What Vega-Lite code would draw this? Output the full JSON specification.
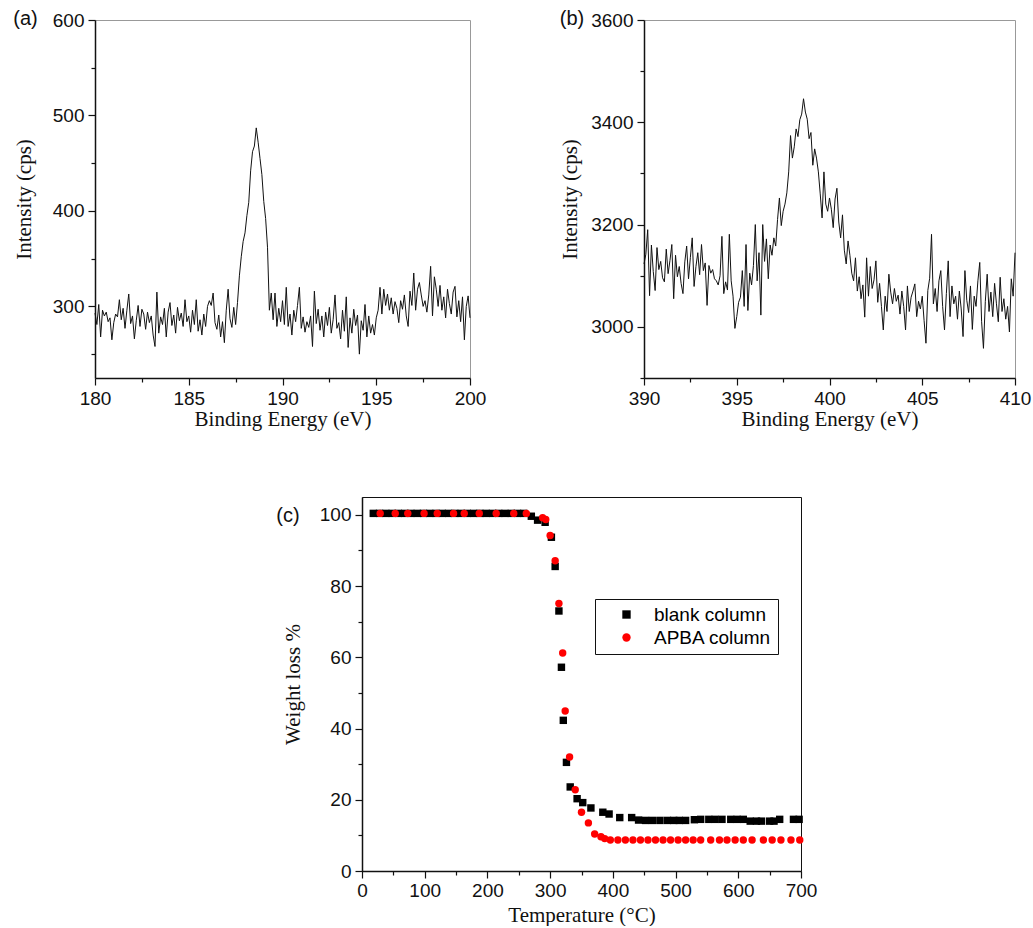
{
"$schema": "https://vega.github.io/schema/vega-lite/v6.json",
"padding": {"left": 12, "top": 8, "right": 0, "bottom": 0},
"config": {
  "font": "Liberation Sans",
  "axis": {"labelFont": "Liberation Sans", "labelFontSize": 19, "labelColor": "#111", "titleFont": "Liberation Serif", "titleFontSize": 21, "titleFontWeight": "normal", "titleColor": "#111", "domainColor": "#111", "tickColor": "#111", "grid": false, "domainWidth": 1.5, "tickWidth": 1.2, "labelFlush": false, "labelOverlap": false},
  "view": {"stroke": "#999"},
  "title": {"font": "Liberation Sans", "fontSize": 20, "fontWeight": "normal", "anchor": "start", "frame": "bounds", "color": "#111"}
},
"datasets": {
"xpsA": [
{"be":180.0,"cps":293},{"be":180.1,"cps":281},{"be":180.2,"cps":302},{"be":180.3,"cps":268},{"be":180.4,"cps":296},{"be":180.5,"cps":290},{"be":180.6,"cps":294},{"be":180.7,"cps":284},{"be":180.8,"cps":288},{"be":180.9,"cps":265},
{"be":181.0,"cps":283},{"be":181.1,"cps":292},{"be":181.2,"cps":289},{"be":181.3,"cps":307},{"be":181.4,"cps":286},{"be":181.5,"cps":298},{"be":181.6,"cps":277},{"be":181.7,"cps":296},{"be":181.8,"cps":313},{"be":181.9,"cps":282},
{"be":182.0,"cps":290},{"be":182.1,"cps":266},{"be":182.2,"cps":285},{"be":182.3,"cps":301},{"be":182.4,"cps":279},{"be":182.5,"cps":297},{"be":182.6,"cps":292},{"be":182.7,"cps":276},{"be":182.8,"cps":294},{"be":182.9,"cps":283},
{"be":183.0,"cps":290},{"be":183.1,"cps":270},{"be":183.2,"cps":258},{"be":183.3,"cps":315},{"be":183.4,"cps":272},{"be":183.5,"cps":289},{"be":183.6,"cps":281},{"be":183.7,"cps":298},{"be":183.8,"cps":268},{"be":183.9,"cps":294},
{"be":184.0,"cps":304},{"be":184.1,"cps":280},{"be":184.2,"cps":291},{"be":184.3,"cps":272},{"be":184.4,"cps":299},{"be":184.5,"cps":285},{"be":184.6,"cps":293},{"be":184.7,"cps":279},{"be":184.8,"cps":307},{"be":184.9,"cps":284},
{"be":185.0,"cps":290},{"be":185.1,"cps":273},{"be":185.2,"cps":296},{"be":185.3,"cps":281},{"be":185.4,"cps":307},{"be":185.5,"cps":274},{"be":185.6,"cps":286},{"be":185.7,"cps":270},{"be":185.8,"cps":292},{"be":185.9,"cps":279},
{"be":186.0,"cps":300},{"be":186.1,"cps":306},{"be":186.2,"cps":301},{"be":186.3,"cps":314},{"be":186.4,"cps":283},{"be":186.5,"cps":276},{"be":186.6,"cps":291},{"be":186.7,"cps":268},{"be":186.8,"cps":284},{"be":186.9,"cps":262},
{"be":187.0,"cps":296},{"be":187.1,"cps":318},{"be":187.2,"cps":287},{"be":187.3,"cps":278},{"be":187.4,"cps":299},{"be":187.5,"cps":281},{"be":187.6,"cps":304},{"be":187.7,"cps":332},{"be":187.8,"cps":352},{"be":187.9,"cps":368},
{"be":188.0,"cps":377},{"be":188.1,"cps":395},{"be":188.2,"cps":409},{"be":188.3,"cps":442},{"be":188.4,"cps":462},{"be":188.5,"cps":468},{"be":188.6,"cps":487},{"be":188.7,"cps":472},{"be":188.8,"cps":455},{"be":188.9,"cps":438},
{"be":189.0,"cps":410},{"be":189.1,"cps":392},{"be":189.2,"cps":362},{"be":189.3,"cps":296},{"be":189.4,"cps":314},{"be":189.5,"cps":286},{"be":189.6,"cps":314},{"be":189.7,"cps":279},{"be":189.8,"cps":298},{"be":189.9,"cps":284},
{"be":190.0,"cps":306},{"be":190.1,"cps":281},{"be":190.2,"cps":320},{"be":190.3,"cps":279},{"be":190.4,"cps":292},{"be":190.5,"cps":270},{"be":190.6,"cps":296},{"be":190.7,"cps":284},{"be":190.8,"cps":301},{"be":190.9,"cps":320},
{"be":191.0,"cps":277},{"be":191.1,"cps":289},{"be":191.2,"cps":273},{"be":191.3,"cps":284},{"be":191.4,"cps":278},{"be":191.5,"cps":290},{"be":191.6,"cps":258},{"be":191.7,"cps":316},{"be":191.8,"cps":282},{"be":191.9,"cps":297},
{"be":192.0,"cps":275},{"be":192.1,"cps":290},{"be":192.2,"cps":268},{"be":192.3,"cps":294},{"be":192.4,"cps":280},{"be":192.5,"cps":299},{"be":192.6,"cps":272},{"be":192.7,"cps":286},{"be":192.8,"cps":312},{"be":192.9,"cps":277},
{"be":193.0,"cps":283},{"be":193.1,"cps":266},{"be":193.2,"cps":296},{"be":193.3,"cps":274},{"be":193.4,"cps":310},{"be":193.5,"cps":257},{"be":193.6,"cps":288},{"be":193.7,"cps":272},{"be":193.8,"cps":297},{"be":193.9,"cps":280},
{"be":194.0,"cps":291},{"be":194.1,"cps":250},{"be":194.2,"cps":285},{"be":194.3,"cps":275},{"be":194.4,"cps":302},{"be":194.5,"cps":268},{"be":194.6,"cps":290},{"be":194.7,"cps":272},{"be":194.8,"cps":281},{"be":194.9,"cps":270},
{"be":195.0,"cps":288},{"be":195.1,"cps":296},{"be":195.2,"cps":320},{"be":195.3,"cps":292},{"be":195.4,"cps":318},{"be":195.5,"cps":301},{"be":195.6,"cps":313},{"be":195.7,"cps":296},{"be":195.8,"cps":309},{"be":195.9,"cps":292},
{"be":196.0,"cps":305},{"be":196.1,"cps":298},{"be":196.2,"cps":283},{"be":196.3,"cps":306},{"be":196.4,"cps":297},{"be":196.5,"cps":312},{"be":196.6,"cps":290},{"be":196.7,"cps":279},{"be":196.8,"cps":316},{"be":196.9,"cps":301},
{"be":197.0,"cps":335},{"be":197.1,"cps":296},{"be":197.2,"cps":318},{"be":197.3,"cps":325},{"be":197.4,"cps":312},{"be":197.5,"cps":300},{"be":197.6,"cps":306},{"be":197.7,"cps":294},{"be":197.8,"cps":312},{"be":197.9,"cps":342},
{"be":198.0,"cps":290},{"be":198.1,"cps":331},{"be":198.2,"cps":318},{"be":198.3,"cps":300},{"be":198.4,"cps":322},{"be":198.5,"cps":296},{"be":198.6,"cps":310},{"be":198.7,"cps":288},{"be":198.8,"cps":318},{"be":198.9,"cps":303},
{"be":199.0,"cps":292},{"be":199.1,"cps":315},{"be":199.2,"cps":321},{"be":199.3,"cps":289},{"be":199.4,"cps":306},{"be":199.5,"cps":284},{"be":199.6,"cps":310},{"be":199.7,"cps":265},{"be":199.8,"cps":300},{"be":199.9,"cps":311},
{"be":200.0,"cps":288}
],
"xpsB": [
{"be":390.0,"cps":3123},{"be":390.1,"cps":3142},{"be":390.2,"cps":3190},{"be":390.3,"cps":3061},{"be":390.4,"cps":3160},{"be":390.5,"cps":3108},{"be":390.6,"cps":3071},{"be":390.7,"cps":3155},{"be":390.8,"cps":3112},{"be":390.9,"cps":3128},
{"be":391.0,"cps":3096},{"be":391.1,"cps":3088},{"be":391.2,"cps":3152},{"be":391.3,"cps":3104},{"be":391.4,"cps":3130},{"be":391.5,"cps":3161},{"be":391.6,"cps":3055},{"be":391.7,"cps":3140},{"be":391.8,"cps":3098},{"be":391.9,"cps":3118},
{"be":392.0,"cps":3085},{"be":392.1,"cps":3065},{"be":392.2,"cps":3127},{"be":392.3,"cps":3158},{"be":392.4,"cps":3094},{"be":392.5,"cps":3136},{"be":392.6,"cps":3174},{"be":392.7,"cps":3079},{"be":392.8,"cps":3118},{"be":392.9,"cps":3145},
{"be":393.0,"cps":3102},{"be":393.1,"cps":3161},{"be":393.2,"cps":3110},{"be":393.3,"cps":3125},{"be":393.4,"cps":3042},{"be":393.5,"cps":3120},{"be":393.6,"cps":3105},{"be":393.7,"cps":3112},{"be":393.8,"cps":3094},{"be":393.9,"cps":3090},
{"be":394.0,"cps":3082},{"be":394.1,"cps":3100},{"be":394.2,"cps":3177},{"be":394.3,"cps":3065},{"be":394.4,"cps":3088},{"be":394.5,"cps":3072},{"be":394.6,"cps":3181},{"be":394.7,"cps":3090},{"be":394.8,"cps":3060},{"be":394.9,"cps":2997},
{"be":395.0,"cps":3020},{"be":395.1,"cps":3048},{"be":395.2,"cps":3058},{"be":395.3,"cps":3110},{"be":395.4,"cps":3040},{"be":395.5,"cps":3161},{"be":395.6,"cps":3032},{"be":395.7,"cps":3105},{"be":395.8,"cps":3082},{"be":395.9,"cps":3120},
{"be":396.0,"cps":3200},{"be":396.1,"cps":3090},{"be":396.2,"cps":3145},{"be":396.3,"cps":3023},{"be":396.4,"cps":3200},{"be":396.5,"cps":3128},{"be":396.6,"cps":3172},{"be":396.7,"cps":3094},{"be":396.8,"cps":3160},{"be":396.9,"cps":3140},
{"be":397.0,"cps":3174},{"be":397.1,"cps":3158},{"be":397.2,"cps":3210},{"be":397.3,"cps":3252},{"be":397.4,"cps":3198},{"be":397.5,"cps":3226},{"be":397.6,"cps":3240},{"be":397.7,"cps":3262},{"be":397.8,"cps":3303},{"be":397.9,"cps":3374},
{"be":398.0,"cps":3330},{"be":398.1,"cps":3352},{"be":398.2,"cps":3387},{"be":398.3,"cps":3372},{"be":398.4,"cps":3405},{"be":398.5,"cps":3416},{"be":398.6,"cps":3446},{"be":398.7,"cps":3420},{"be":398.8,"cps":3406},{"be":398.9,"cps":3368},
{"be":399.0,"cps":3380},{"be":399.1,"cps":3316},{"be":399.2,"cps":3348},{"be":399.3,"cps":3330},{"be":399.4,"cps":3303},{"be":399.5,"cps":3260},{"be":399.6,"cps":3213},{"be":399.7,"cps":3303},{"be":399.8,"cps":3240},{"be":399.9,"cps":3226},
{"be":400.0,"cps":3252},{"be":400.1,"cps":3230},{"be":400.2,"cps":3194},{"be":400.3,"cps":3250},{"be":400.4,"cps":3271},{"be":400.5,"cps":3205},{"be":400.6,"cps":3174},{"be":400.7,"cps":3219},{"be":400.8,"cps":3150},{"be":400.9,"cps":3123},
{"be":401.0,"cps":3168},{"be":401.1,"cps":3140},{"be":401.2,"cps":3105},{"be":401.3,"cps":3090},{"be":401.4,"cps":3135},{"be":401.5,"cps":3070},{"be":401.6,"cps":3098},{"be":401.7,"cps":3055},{"be":401.8,"cps":3082},{"be":401.9,"cps":3019},
{"be":402.0,"cps":3135},{"be":402.1,"cps":3060},{"be":402.2,"cps":3118},{"be":402.3,"cps":3075},{"be":402.4,"cps":3092},{"be":402.5,"cps":3129},{"be":402.6,"cps":3048},{"be":402.7,"cps":3085},{"be":402.8,"cps":3040},{"be":402.9,"cps":2994},
{"be":403.0,"cps":3060},{"be":403.1,"cps":3030},{"be":403.2,"cps":3103},{"be":403.3,"cps":3068},{"be":403.4,"cps":3045},{"be":403.5,"cps":3075},{"be":403.6,"cps":3050},{"be":403.7,"cps":3062},{"be":403.8,"cps":3025},{"be":403.9,"cps":3070},
{"be":404.0,"cps":3040},{"be":404.1,"cps":2994},{"be":404.2,"cps":3080},{"be":404.3,"cps":3030},{"be":404.4,"cps":3058},{"be":404.5,"cps":3070},{"be":404.6,"cps":3084},{"be":404.7,"cps":3020},{"be":404.8,"cps":3050},{"be":404.9,"cps":3035},
{"be":405.0,"cps":3060},{"be":405.1,"cps":3012},{"be":405.2,"cps":2968},{"be":405.3,"cps":3071},{"be":405.4,"cps":3095},{"be":405.5,"cps":3181},{"be":405.6,"cps":3045},{"be":405.7,"cps":3075},{"be":405.8,"cps":3030},{"be":405.9,"cps":3090},
{"be":406.0,"cps":3110},{"be":406.1,"cps":3040},{"be":406.2,"cps":2994},{"be":406.3,"cps":3065},{"be":406.4,"cps":3129},{"be":406.5,"cps":3020},{"be":406.6,"cps":3080},{"be":406.7,"cps":3045},{"be":406.8,"cps":3060},{"be":406.9,"cps":3015},
{"be":407.0,"cps":3070},{"be":407.1,"cps":3035},{"be":407.2,"cps":2981},{"be":407.3,"cps":3110},{"be":407.4,"cps":3052},{"be":407.5,"cps":3028},{"be":407.6,"cps":3080},{"be":407.7,"cps":2995},{"be":407.8,"cps":3060},{"be":407.9,"cps":3040},
{"be":408.0,"cps":3090},{"be":408.1,"cps":3126},{"be":408.2,"cps":3010},{"be":408.3,"cps":2958},{"be":408.4,"cps":3050},{"be":408.5,"cps":3103},{"be":408.6,"cps":3030},{"be":408.7,"cps":3068},{"be":408.8,"cps":3020},{"be":408.9,"cps":3085},
{"be":409.0,"cps":3045},{"be":409.1,"cps":3010},{"be":409.2,"cps":3097},{"be":409.3,"cps":3030},{"be":409.4,"cps":3055},{"be":409.5,"cps":3015},{"be":409.6,"cps":3040},{"be":409.7,"cps":2990},{"be":409.8,"cps":3094},{"be":409.9,"cps":3060},
{"be":410.0,"cps":3145}
],
"tga": [
{"series":"blank column","temp":18,"loss":100.4},{"series":"blank column","temp":28,"loss":100.4},{"series":"blank column","temp":38,"loss":100.4},{"series":"blank column","temp":48,"loss":100.4},{"series":"blank column","temp":58,"loss":100.4},
{"series":"blank column","temp":68,"loss":100.4},{"series":"blank column","temp":78,"loss":100.4},{"series":"blank column","temp":88,"loss":100.4},{"series":"blank column","temp":98,"loss":100.4},{"series":"blank column","temp":108,"loss":100.4},
{"series":"blank column","temp":118,"loss":100.4},{"series":"blank column","temp":128,"loss":100.4},{"series":"blank column","temp":138,"loss":100.4},{"series":"blank column","temp":148,"loss":100.4},{"series":"blank column","temp":158,"loss":100.4},
{"series":"blank column","temp":168,"loss":100.4},{"series":"blank column","temp":178,"loss":100.4},{"series":"blank column","temp":188,"loss":100.4},{"series":"blank column","temp":198,"loss":100.4},{"series":"blank column","temp":208,"loss":100.4},
{"series":"blank column","temp":218,"loss":100.4},{"series":"blank column","temp":228,"loss":100.4},{"series":"blank column","temp":238,"loss":100.4},{"series":"blank column","temp":248,"loss":100.4},{"series":"blank column","temp":258,"loss":100.4},
{"series":"blank column","temp":270,"loss":99.6},{"series":"blank column","temp":280,"loss":98.5},{"series":"blank column","temp":292,"loss":97.9},{"series":"blank column","temp":302,"loss":93.7},{"series":"blank column","temp":308,"loss":85.5},
{"series":"blank column","temp":314,"loss":73.0},{"series":"blank column","temp":318,"loss":57.2},{"series":"blank column","temp":321,"loss":42.3},{"series":"blank column","temp":326,"loss":30.5},{"series":"blank column","temp":332,"loss":23.6},
{"series":"blank column","temp":343,"loss":20.3},{"series":"blank column","temp":352,"loss":19.2},{"series":"blank column","temp":365,"loss":17.7},{"series":"blank column","temp":384,"loss":16.5},{"series":"blank column","temp":394,"loss":16.0},
{"series":"blank column","temp":411,"loss":15.0},{"series":"blank column","temp":430,"loss":15.0},{"series":"blank column","temp":441,"loss":14.3},{"series":"blank column","temp":452,"loss":14.2},{"series":"blank column","temp":463,"loss":14.2},
{"series":"blank column","temp":475,"loss":14.2},{"series":"blank column","temp":487,"loss":14.2},{"series":"blank column","temp":497,"loss":14.2},{"series":"blank column","temp":506,"loss":14.2},{"series":"blank column","temp":516,"loss":14.2},
{"series":"blank column","temp":530,"loss":14.4},{"series":"blank column","temp":540,"loss":14.5},{"series":"blank column","temp":553,"loss":14.5},{"series":"blank column","temp":563,"loss":14.5},{"series":"blank column","temp":574,"loss":14.5},
{"series":"blank column","temp":588,"loss":14.5},{"series":"blank column","temp":598,"loss":14.5},{"series":"blank column","temp":608,"loss":14.5},{"series":"blank column","temp":619,"loss":14.0},{"series":"blank column","temp":629,"loss":14.0},
{"series":"blank column","temp":637,"loss":14.0},{"series":"blank column","temp":650,"loss":14.0},{"series":"blank column","temp":657,"loss":14.0},{"series":"blank column","temp":666,"loss":14.5},{"series":"blank column","temp":688,"loss":14.5},
{"series":"blank column","temp":697,"loss":14.5},
{"series":"APBA column","temp":29,"loss":100.4},{"series":"APBA column","temp":53,"loss":100.4},{"series":"APBA column","temp":73,"loss":100.4},{"series":"APBA column","temp":99,"loss":100.4},{"series":"APBA column","temp":120,"loss":100.4},
{"series":"APBA column","temp":146,"loss":100.4},{"series":"APBA column","temp":163,"loss":100.4},{"series":"APBA column","temp":187,"loss":100.4},{"series":"APBA column","temp":214,"loss":100.4},{"series":"APBA column","temp":242,"loss":100.4},
{"series":"APBA column","temp":262,"loss":100.4},{"series":"APBA column","temp":288,"loss":99.2},{"series":"APBA column","temp":293,"loss":98.7},{"series":"APBA column","temp":300,"loss":94.2},{"series":"APBA column","temp":308,"loss":87.1},
{"series":"APBA column","temp":314,"loss":75.1},{"series":"APBA column","temp":320,"loss":61.2},{"series":"APBA column","temp":324,"loss":44.9},{"series":"APBA column","temp":331,"loss":32.0},{"series":"APBA column","temp":340,"loss":22.8},
{"series":"APBA column","temp":350,"loss":16.5},{"series":"APBA column","temp":361,"loss":13.5},{"series":"APBA column","temp":371,"loss":10.4},{"series":"APBA column","temp":381,"loss":9.6},{"series":"APBA column","temp":387,"loss":9.1},
{"series":"APBA column","temp":396,"loss":8.7},{"series":"APBA column","temp":408,"loss":8.7},{"series":"APBA column","temp":420,"loss":8.7},{"series":"APBA column","temp":432,"loss":8.7},{"series":"APBA column","temp":444,"loss":8.7},
{"series":"APBA column","temp":456,"loss":8.7},{"series":"APBA column","temp":468,"loss":8.7},{"series":"APBA column","temp":480,"loss":8.7},{"series":"APBA column","temp":492,"loss":8.7},{"series":"APBA column","temp":504,"loss":8.7},
{"series":"APBA column","temp":516,"loss":8.7},{"series":"APBA column","temp":528,"loss":8.7},{"series":"APBA column","temp":540,"loss":8.7},{"series":"APBA column","temp":556,"loss":8.7},{"series":"APBA column","temp":570,"loss":8.7},
{"series":"APBA column","temp":582,"loss":8.7},{"series":"APBA column","temp":595,"loss":8.7},{"series":"APBA column","temp":608,"loss":8.7},{"series":"APBA column","temp":622,"loss":8.7},{"series":"APBA column","temp":640,"loss":8.7},
{"series":"APBA column","temp":654,"loss":8.7},{"series":"APBA column","temp":668,"loss":8.7},{"series":"APBA column","temp":684,"loss":8.7},{"series":"APBA column","temp":698,"loss":8.7}
]
},
"spacing": 66,
"bounds": "full",
"vconcat": [
{
"spacing": 174,
"bounds": "flush",
"hconcat": [
{
"width": 375, "height": 358,
"title": {"text": "(a)", "dy": 22},
"data": {"name": "xpsA"},
"mark": {"type": "line", "color": "#111", "strokeWidth": 1},
"encoding": {
"x": {"field": "be", "type": "quantitative", "scale": {"domain": [180, 200], "nice": false, "zero": false},
 "axis": {"title": "Binding Energy (eV)", "values": [180, 182.5, 185, 187.5, 190, 192.5, 195, 197.5, 200], "labelExpr": "datum.value % 5 === 0 ? datum.label : ''", "tickSize": {"condition": {"test": "datum.value % 5 === 0", "value": 7}, "value": 4}, "labelPadding": 4, "titlePadding": 0}},
"y": {"field": "cps", "type": "quantitative", "scale": {"domain": [225, 600], "nice": false, "zero": false},
 "axis": {"title": "Intensity (cps)", "values": [250, 300, 350, 400, 450, 500, 550, 600], "labelExpr": "datum.value % 100 === 0 ? datum.label : ''", "tickSize": {"condition": {"test": "datum.value % 100 === 0", "value": 7}, "value": 4}, "labelPadding": 4, "titlePadding": 18}}
}
},
{
"width": 371, "height": 358,
"title": {"text": "(b)", "dy": 22},
"data": {"name": "xpsB"},
"mark": {"type": "line", "color": "#111", "strokeWidth": 1},
"encoding": {
"x": {"field": "be", "type": "quantitative", "scale": {"domain": [390, 410], "nice": false, "zero": false},
 "axis": {"title": "Binding Energy (eV)", "values": [390, 392.5, 395, 397.5, 400, 402.5, 405, 407.5, 410], "labelExpr": "datum.value % 5 === 0 ? datum.label : ''", "tickSize": {"condition": {"test": "datum.value % 5 === 0", "value": 7}, "value": 4}, "labelPadding": 4, "titlePadding": 0}},
"y": {"field": "cps", "type": "quantitative", "scale": {"domain": [2900, 3600], "nice": false, "zero": false},
 "axis": {"title": "Intensity (cps)", "values": [2900, 3000, 3100, 3200, 3300, 3400, 3500, 3600], "labelExpr": "datum.value % 200 === 0 ? format(datum.value, 'd') : ''", "tickSize": {"condition": {"test": "datum.value % 200 === 0", "value": 7}, "value": 4}, "labelPadding": 4, "titlePadding": 10}}
}
}
]
},
{
"spacing": 20,
"bounds": "flush",
"hconcat": [
{
"width": 247, "height": 374,
"data": {"values": [{"blank": 1}]},
"mark": {"type": "point", "opacity": 0},
"view": {"stroke": null}
},
{
"width": 439, "height": 374,
"title": {"text": "(c)", "dy": 33, "dx": -6},
"data": {"name": "tga"},
"mark": {"type": "point", "filled": true, "size": 55, "opacity": 1},
"view": {"stroke": "#111"},
"encoding": {
"x": {"field": "temp", "type": "quantitative", "scale": {"domain": [0, 700], "nice": false},
 "axis": {"title": "Temperature (°C)", "values": [0, 50, 100, 150, 200, 250, 300, 350, 400, 450, 500, 550, 600, 650, 700], "labelExpr": "datum.value % 100 === 0 ? datum.label : ''", "tickSize": {"condition": {"test": "datum.value % 100 === 0", "value": 7}, "value": 4}, "labelPadding": 3, "titlePadding": 4}},
"y": {"field": "loss", "type": "quantitative", "scale": {"domain": [0, 105], "nice": false},
 "axis": {"title": "Weight loss %", "values": [0, 10, 20, 30, 40, 50, 60, 70, 80, 90, 100], "labelExpr": "datum.value % 20 === 0 ? datum.label : ''", "tickSize": {"condition": {"test": "datum.value % 20 === 0", "value": 7}, "value": 4}, "labelPadding": 4, "titlePadding": 16}},
"color": {"field": "series", "type": "nominal", "scale": {"domain": ["blank column", "APBA column"], "range": ["#000000", "#ff0000"]},
 "legend": {"title": null, "orient": "none", "legendX": 500, "legendY": 579, "strokeColor": "#111", "padding": 6, "labelFontSize": 19, "labelFont": "Liberation Sans", "symbolSize": 70, "rowPadding": 3, "symbolOffset": 16, "labelOffset": 18}},
"shape": {"field": "series", "type": "nominal", "scale": {"domain": ["blank column", "APBA column"], "range": ["square", "circle"]}}
}
}
]
}
]
}
